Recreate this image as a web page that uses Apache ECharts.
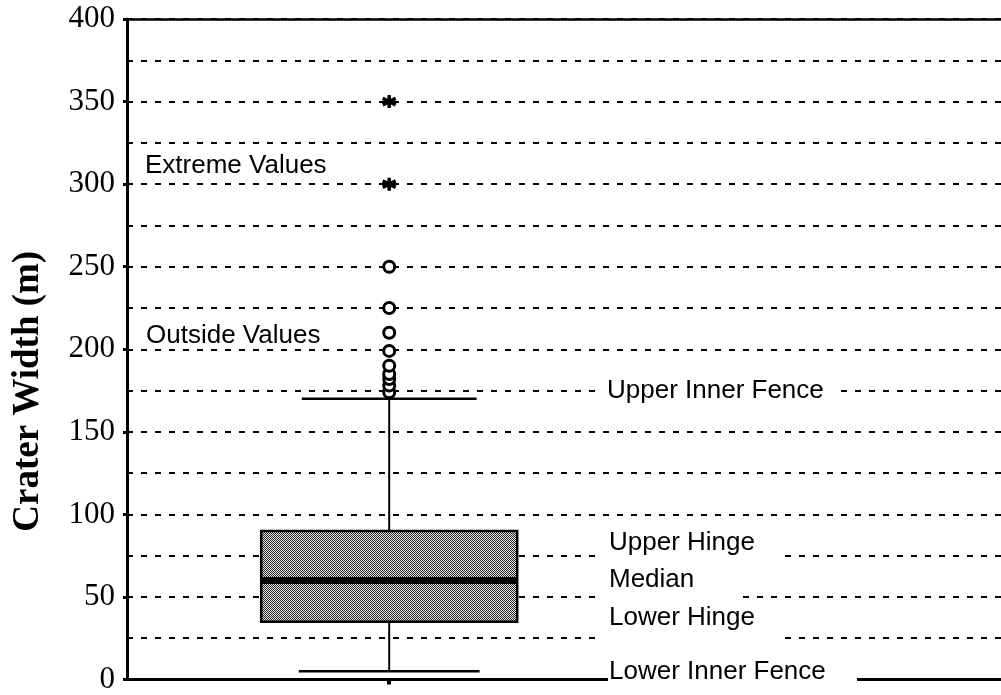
<!DOCTYPE html>
<html>
<head>
<meta charset="utf-8">
<script src="https://cdn.jsdelivr.net/npm/echarts@6/dist/echarts.min.js"></script>
<style>
  html, body { margin: 0; padding: 0; background: #fff; }
  #chart { width: 1001px; height: 695px; }
</style>
</head>
<body>
<div id="chart"></div>
<script>
const categories = ['', 'Crater', '', '', '']
// lower inner fence, lower hinge, median, upper hinge, upper inner fence
const boxStats = [5, 35, 60, 90, 170]
const outsideValues = [174, 178, 182, 185, 190, 199, 210, 225, 250]
const extremeValues = [300, 350]
const yMin = 0
const yMax = 400
const yStep = 50

// annotation texts and the value they sit at
const noteTexts = ['Extreme Values', 'Outside Values', 'Upper Inner Fence', 'Upper Hinge', 'Median', 'Lower Hinge', 'Lower Inner Fence']
const noteValues = [311, 208, 175, 83, 60.3, 37.5, 4.8]
const noteLeft = [145, 146, 607, 609, 609, 609, 609]

// gaps cut into the grid lines behind the right hand labels
const gapValues = [175, 75, 50, 25, 0]
const gapFrom = [600, 598, 598, 598, 608]
const gapTo = [836, 783, 742, 783, 857]

function makeDots() {
  const c = document.createElement('canvas')
  c.width = 2
  c.height = 2
  const g = c.getContext('2d')
  g.fillStyle = '#e6e6e6'
  g.fillRect(0, 0, 2, 2)
  g.fillStyle = '#262626'
  g.fillRect(0, 0, 1, 1)
  g.fillRect(1, 1, 1, 1)
  return c
}
const dots = makeDots()

function renderBox(params, api) {
  const x = api.value(0)
  const pLo = api.coord([x, api.value(1)])
  const pQ1 = api.coord([x, api.value(2)])
  const pMed = api.coord([x, api.value(3)])
  const pQ3 = api.coord([x, api.value(4)])
  const pHi = api.coord([x, api.value(5)])
  const cx = pLo[0]
  const half = 128
  const cap = api.size([1, 0])[0] / 2
  const ln = { stroke: '#000', lineWidth: 2 }
  return {
    type: 'group',
    children: [
      { type: 'line', shape: { x1: cx, y1: pQ3[1], x2: cx, y2: pHi[1] }, style: ln },
      { type: 'line', shape: { x1: cx, y1: pQ1[1], x2: cx, y2: pLo[1] }, style: ln },
      { type: 'line', shape: { x1: cx - cap, y1: pHi[1], x2: cx + cap, y2: pHi[1] }, style: { stroke: '#000', lineWidth: 2.5 } },
      { type: 'line', shape: { x1: cx - cap - 3, y1: pLo[1], x2: cx + cap + 3, y2: pLo[1] }, style: { stroke: '#000', lineWidth: 2.5 } },
      {
        type: 'rect',
        shape: { x: cx - half, y: pQ3[1], width: half * 2, height: pQ1[1] - pQ3[1] },
        style: { fill: { image: dots, repeat: 'repeat' }, stroke: '#000', lineWidth: 2.5 }
      },
      { type: 'line', shape: { x1: cx - half, y1: pMed[1], x2: cx + half, y2: pMed[1] }, style: { stroke: '#000', lineWidth: 7 } }
    ]
  }
}

const dash = { color: '#000', width: 2.2, type: [6, 8] }

const chart = echarts.init(document.getElementById('chart'))
chart.setOption({
  animation: false,
  backgroundColor: '#fff',
  grid: { left: 127, right: 0, top: 19, bottom: 9 },
  xAxis: [
    {
      type: 'category',
      data: categories,
      boundaryGap: true,
      axisLine: { lineStyle: { color: '#000', width: 3 } },
      axisTick: { show: true, alignWithLabel: true, interval: i => i === 1, length: 5, lineStyle: { color: '#000', width: 4 } },
      axisLabel: { show: false },
      splitLine: { show: false }
    },
    {
      type: 'category',
      data: categories,
      position: 'top',
      axisLine: { lineStyle: { color: '#000', width: 2.5 } },
      axisTick: { show: false },
      axisLabel: { show: false }
    }
  ],
  yAxis: {
    type: 'value',
    min: yMin,
    max: yMax,
    interval: yStep,
    name: 'Crater Width (m)',
    nameLocation: 'middle',
    nameGap: 80,
    nameTextStyle: {
      fontFamily: 'Liberation Serif',
      fontWeight: 'bold',
      fontSize: 37,
      color: '#000',
      padding: [0, 84, 0, 0]
    },
    axisLine: { show: true, lineStyle: { color: '#000', width: 3 } },
    axisTick: { show: true, length: 4, lineStyle: { color: '#000', width: 3 } },
    axisLabel: { fontFamily: 'Liberation Serif', fontSize: 31, color: '#000', margin: 12 },
    splitLine: { show: true, lineStyle: dash },
    minorTick: { show: false, splitNumber: 2 },
    minorSplitLine: { show: true, lineStyle: dash }
  },
  series: [
    {
      type: 'custom',
      renderItem: renderBox,
      encode: { x: 0, y: [1, 2, 3, 4, 5] },
      data: [[1].concat(boxStats)],
      z: 3
    },
    {
      type: 'scatter',
      symbol: 'circle',
      symbolSize: 11,
      itemStyle: { color: '#fff', borderColor: '#000', borderWidth: 3, opacity: 1 },
      data: outsideValues.map(v => [1, v]),
      z: 4
    },
    {
      type: 'scatter',
      symbol: 'path://M5 0L5 10M0.7 2.5L9.3 7.5M0.7 7.5L9.3 2.5',
      symbolSize: 13,
      itemStyle: { color: 'none', borderColor: '#000', borderWidth: 3.5, opacity: 1 },
      data: extremeValues.map(v => [1, v]),
      z: 4
    }
  ]
})

const toY = v => chart.convertToPixel({ yAxisIndex: 0 }, v)
const graphics = []
gapValues.forEach((v, i) => {
  graphics.push({
    type: 'rect',
    z: 50,
    shape: { x: gapFrom[i], y: toY(v) - 3, width: gapTo[i] - gapFrom[i], height: 6 },
    style: { fill: '#fff' }
  })
})
noteTexts.forEach((t, i) => {
  graphics.push({
    type: 'text',
    z: 60,
    x: noteLeft[i],
    y: toY(noteValues[i]),
    style: {
      text: t,
      font: '26px "Liberation Sans"',
      fill: '#000',
      align: 'left',
      verticalAlign: 'middle'
    }
  })
})
chart.setOption({ graphic: graphics })
</script>
</body>
</html>
